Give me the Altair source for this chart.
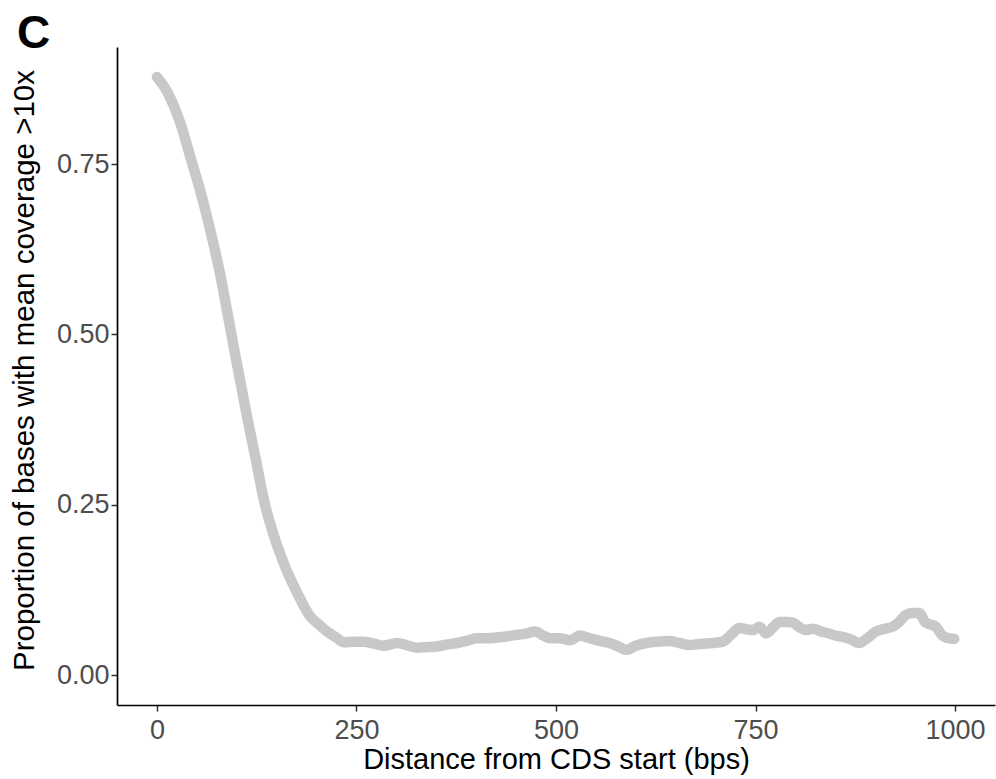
import altair as alt
import pandas as pd

distance = [0, 13, 30, 42, 55, 67, 80, 88, 97, 105, 113, 124, 134, 147, 159, 176, 192, 205, 213, 225,
            234, 247, 259, 272, 284, 301, 315, 326, 340, 351, 365, 376, 390, 401, 415, 426, 440, 451,
            463, 474, 484, 493, 505, 518, 530, 542, 555, 567, 578, 588, 600, 613, 628, 642, 655, 667,
            682, 697, 709, 720, 730, 740, 747, 755, 763, 772, 780, 790, 797, 805, 813, 822, 832, 842,
            850, 859, 870, 880, 890, 901, 912, 922, 930, 938, 947, 955, 963, 970, 976, 984, 992, 999]
proportion = [0.878, 0.856, 0.808, 0.760, 0.708, 0.652, 0.584, 0.534, 0.477, 0.428, 0.379, 0.316,
              0.257, 0.203, 0.164, 0.120, 0.086, 0.072, 0.064, 0.055, 0.048, 0.049, 0.049, 0.046,
              0.043, 0.047, 0.043, 0.040, 0.041, 0.042, 0.045, 0.047, 0.051, 0.054, 0.054, 0.055,
              0.057, 0.059, 0.061, 0.064, 0.058, 0.054, 0.054, 0.051, 0.058, 0.054, 0.050, 0.047,
              0.042, 0.037, 0.043, 0.047, 0.049, 0.050, 0.047, 0.044, 0.046, 0.047, 0.049, 0.060,
              0.069, 0.067, 0.066, 0.071, 0.061, 0.070, 0.078, 0.078, 0.077, 0.070, 0.066, 0.068,
              0.064, 0.061, 0.058, 0.056, 0.052, 0.047, 0.054, 0.064, 0.068, 0.071, 0.078, 0.088,
              0.091, 0.091, 0.077, 0.074, 0.071, 0.058, 0.054, 0.053]
x_ticks = [0, 250, 500, 750, 1000]
y_ticks = [0.0, 0.25, 0.5, 0.75]
panel_label = ["C"]

df = pd.DataFrame({"distance": distance, "proportion": proportion})

FONT = "Liberation Sans"

line = alt.Chart(df).mark_line(
    color="#C8C8C8", strokeWidth=10.5, strokeCap="round", strokeJoin="round",
    interpolate="monotone"
).encode(
    x=alt.X("distance:Q",
            scale=alt.Scale(domain=[-50, 1050], nice=False, zero=False),
            axis=alt.Axis(values=x_ticks, format="d", title="Distance from CDS start (bps)",
                          titleX=439, titleY=63, titleBaseline="alphabetic", titleAlign="center")),
    y=alt.Y("proportion:Q",
            scale=alt.Scale(domain=[-0.044, 0.922], nice=False, zero=False),
            axis=alt.Axis(values=y_ticks, format=".2f",
                          title="Proportion of bases with mean coverage >10x",
                          titleX=-84, titleY=323, titleAngle=-90, titleBaseline="alphabetic",
                          titleAlign="center", titleFontSize=29.5)),
)

label = alt.Chart(pd.DataFrame({"t": panel_label})).mark_text(
    font=FONT, fontSize=46, fontWeight="bold", color="black", align="left", baseline="alphabetic"
).encode(
    text="t:N", x=alt.value(-100), y=alt.value(1)
)

chart = alt.layer(line, label).properties(
    width=878, height=658,
    autosize=alt.AutoSizeParams(type="none"),
    padding={"left": 117, "top": 47, "right": 1, "bottom": 74},
    background="white",
).configure_view(
    stroke=None
).configure_axis(
    grid=False,
    domainColor="black",
    domainWidth=1.7,
    tickColor="#333333",
    tickWidth=1.5,
    tickSize=6,
    labelFont=FONT,
    labelFontSize=27,
    labelColor="#4D4D4D",
    titleFont=FONT,
    titleFontSize=29,
    titleFontWeight="normal",
    titleColor="black",
).configure_axisX(
    labelPadding=6,
).configure_axisY(
    labelPadding=2,
)

chart.save("out.html", embed_options={"renderer": "svg", "actions": False})
